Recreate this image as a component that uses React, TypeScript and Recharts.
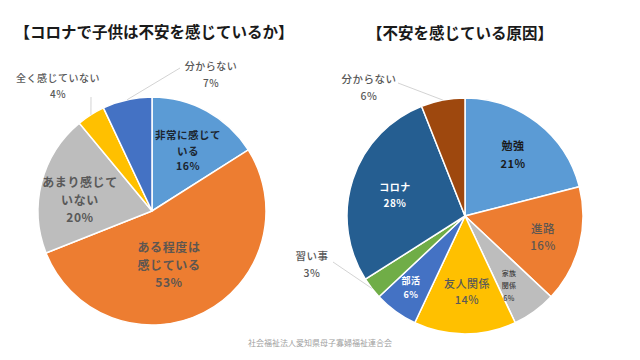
import React from 'react';
import { PieChart, Pie, Cell } from 'recharts';

// ---- data ----
const leftTitle = '【コロナで子供は不安を感じているか】';
const leftCategories = ['非常に感じている', 'ある程度は感じている', 'あまり感じていない', '全く感じていない', '分からない'];
const leftValues = [16, 53, 20, 4, 7];
const leftColors = ['#5B9BD5', '#ED7D31', '#BDBDBD', '#FFC000', '#4472C4'];

const rightTitle = '【不安を感じている原因】';
const rightCategories = ['勉強', '進路', '家族関係', '友人関係', '部活', '習い事', 'コロナ', '分からない'];
const rightValues = [21, 16, 6, 14, 6, 3, 28, 6];
const rightColors = ['#5B9BD5', '#ED7D31', '#BDBDBD', '#FFC000', '#4472C4', '#70AD47', '#255E91', '#9E480E'];

const footnote = '社会福祉法人愛知県母子寡婦福祉連合会';

// label text split into lines (percent appended as last line)
const leftLabelText = [['非常に感じて', 'いる'], ['ある程度は', '感じている'], ['あまり感じて', 'いない'], ['全く感じていない'], ['分からない']];
const rightLabelText = [['勉強'], ['進路'], ['家族', '関係'], ['友人関係'], ['部活'], ['習い事'], ['コロナ'], ['分からない']];

type LabelCfg = { dx: number; dy: number; gap: number; size: number; color: string; weight: number; lineTo?: [number, number] };

const leftLabelCfg: LabelCfg[] = [
  { dx: 36, dy: -61, gap: 15.5, size: 10.5, color: '#1b2631', weight: 700 },
  { dx: 17, dy: 53, gap: 17.5, size: 12, color: '#5e5650', weight: 700 },
  { dx: -72, dy: -12, gap: 17.5, size: 12, color: '#595959', weight: 700 },
  { dx: -94, dy: -126, gap: 16, size: 10, color: '#595959', weight: 500, lineTo: [-61, -114] },
  { dx: 59, dy: -137.5, gap: 17, size: 10, color: '#595959', weight: 500, lineTo: [28, -143] },
];

const rightLabelCfg: LabelCfg[] = [
  { dx: 48, dy: -62, gap: 18, size: 11, color: '#1a1a1a', weight: 700 },
  { dx: 78, dy: 20.5, gap: 17, size: 11.5, color: '#5e5650', weight: 500 },
  { dx: 44, dy: 69, gap: 12.5, size: 7, color: '#404040', weight: 500 },
  { dx: 2, dy: 75, gap: 16, size: 11, color: '#595959', weight: 500 },
  { dx: -54, dy: 71, gap: 14, size: 9, color: '#ffffff', weight: 700 },
  { dx: -153, dy: 47.5, gap: 17, size: 10.5, color: '#595959', weight: 500, lineTo: [-132, 46] },
  { dx: -70, dy: -21.5, gap: 15.5, size: 10, color: '#ffffff', weight: 700 },
  { dx: -96, dy: -129.5, gap: 17, size: 10.5, color: '#595959', weight: 500, lineTo: [-67, -133] },
];

const leftData = leftCategories.map((name, i) => ({ name, value: leftValues[i] }));
const rightData = rightCategories.map((name, i) => ({ name, value: rightValues[i] }));

const RAD = Math.PI / 180;
const FONT = '"Noto Sans CJK JP", "Noto Sans", sans-serif';

function makeLabel(texts: string[][], cfgs: LabelCfg[]) {
  return (props: any) => {
    const { cx, cy, midAngle, outerRadius, index, value } = props;
    const cfg = cfgs[index];
    const lines = [...texts[index], `${value}%`];
    const n = lines.length;
    const x = cx + cfg.dx;
    const y0 = cy + cfg.dy;
    let leader = null;
    if (cfg.lineTo) {
      const ex = cx + outerRadius * Math.cos(-midAngle * RAD);
      const ey = cy + outerRadius * Math.sin(-midAngle * RAD);
      leader = (
        <line x1={ex} y1={ey} x2={cx + cfg.lineTo[0]} y2={cy + cfg.lineTo[1]} stroke="#c8c8c8" strokeWidth={0.8} />
      );
    }
    return (
      <g key={`lbl-${index}`}>
        {leader}
        {lines.map((t, i) => (
          <text
            key={i}
            x={x}
            y={y0 + (i - (n - 1) / 2) * cfg.gap}
            textAnchor="middle"
            dominantBaseline="central"
            fill={cfg.color}
            fontSize={cfg.size}
            fontWeight={cfg.weight}
            fontFamily={FONT}
            style={{ letterSpacing: '0.05em' }}
          >
            {t}
          </text>
        ))}
      </g>
    );
  };
}

export default function App() {
  return (
    <div style={{ position: 'absolute', left: 0, top: 0, width: 640, height: 360, background: '#ffffff', overflow: 'hidden' }}>
      <PieChart width={640} height={360} margin={{ top: 0, right: 0, bottom: 0, left: 0 }}>
        <Pie
          data={leftData}
          dataKey="value"
          nameKey="name"
          cx={152}
          cy={211}
          outerRadius={114}
          startAngle={90}
          endAngle={-270}
          stroke="#ffffff"
          strokeWidth={1.5}
          isAnimationActive={false}
          labelLine={false}
          label={makeLabel(leftLabelText, leftLabelCfg)}
        >
          {leftData.map((_, i) => (
            <Cell key={i} fill={leftColors[i]} />
          ))}
        </Pie>
        <Pie
          data={rightData}
          dataKey="value"
          nameKey="name"
          cx={465}
          cy={216}
          outerRadius={118}
          startAngle={90}
          endAngle={-270}
          stroke="#ffffff"
          strokeWidth={1.5}
          isAnimationActive={false}
          labelLine={false}
          label={makeLabel(rightLabelText, rightLabelCfg)}
        >
          {rightData.map((_, i) => (
            <Cell key={i} fill={rightColors[i]} />
          ))}
        </Pie>
      </PieChart>
      <div style={{ position: 'absolute', left: 154 - 160, width: 320, top: 21, textAlign: 'center', fontFamily: FONT, fontWeight: 700, fontSize: 15.5, lineHeight: '20px', color: '#1a1a1a' }}>
        {leftTitle}
      </div>
      <div style={{ position: 'absolute', left: 460 - 160, width: 320, top: 22, textAlign: 'center', fontFamily: FONT, fontWeight: 700, fontSize: 15.5, lineHeight: '20px', color: '#1a1a1a' }}>
        {rightTitle}
      </div>
      <div style={{ position: 'absolute', left: 0, width: 640, top: 337, textAlign: 'center', fontFamily: FONT, fontSize: 8, lineHeight: '12px', color: '#a0a0a0' }}>
        {footnote}
      </div>
    </div>
  );
}
